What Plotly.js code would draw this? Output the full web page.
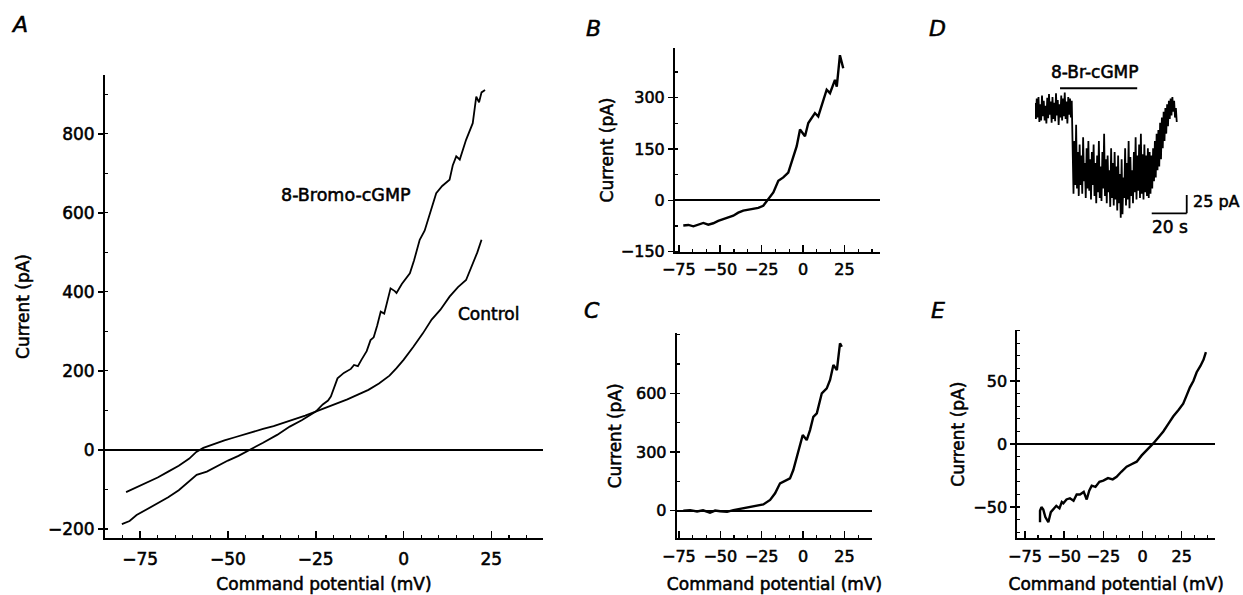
<!DOCTYPE html>
<html>
<head>
<meta charset="utf-8">
<script src="https://cdn.plot.ly/plotly-3.0.1.min.js"></script>
<style>
  html, body { margin: 0; padding: 0; background: #fff; }
  #chart { width: 1243px; height: 595px; }
  #chart svg text { stroke: #000; stroke-width: 0.55px; }
</style>
</head>
<body>
<div id="chart"></div>
<script>
// ---------- Panel A: I-V curves (mV, pA) ----------
const controlV = [-79,-76,-73,-70,-67,-64,-61,-59,-57,-54,-51,-48,-45,-43,-40,-37,-34,-31,-28,-25,-22,-19,-16,-13,-10,-7,-4,-2,0,2.8,5.5,8,10.5,13.1,15.5,17.8,19.5,21,22.2];
const controlI = [-107,-95,-83,-70,-55,-40,-22,-5,5,15,24,32,40,46,53,60,70,78,87,97,108,118,128,140,152,168,188,207,228,261,295,330,355,388,412,430,465,500,532];

const bromoV = [-80.2,-78,-76,-73,-70,-67,-64,-61,-58.9,-56,-53,-50,-47,-43.75,-40,-36,-32.4,-29,-25,-23,-21.5,-20.7,-19.5,-18.8,-17,-15,-14.1,-13,-12,-10.5,-9.4,-8.5,-7.5,-6.5,-5.5,-4.5,-3.7,-2.5,-2,-0.5,1.8,3,4.6,6,7.5,9.3,11,13.1,14,15,16,17.8,19.7,20.7,21.5,22.2,23.2];
const bromoI = [-188,-180,-165,-150,-135,-120,-102,-80,-63,-55,-40,-27,-15,0,18,38,59,75,97,115,125,135,165,181,195,205,215,212,228,250,278,285,315,350,345,380,409,402,397,420,447,480,532,555,600,650,668,684,720,743,735,785,827,894,880,905,911];

// ---------- Panel B ----------
const bV = [-72.3,-69.2,-66.2,-63.2,-60.2,-57.2,-54.2,-51.2,-48.1,-45.1,-42.1,-39.1,-36.1,-33.1,-30,-27,-24,-21,-17.9,-14.9,-11.9,-8.9,-5.9,-3.8,-1.8,1.2,3.2,7.2,9.2,12.3,14.3,16.3,19.3,20.4,22.3,24.3];
const bI = [-73.7,-72,-76,-70,-66,-71,-67,-60,-54,-50,-45,-36,-30,-27,-23,-22,-16,4,23,57,67,81,129,158,207,187,226,255,245,294,323,313,352,332,424,386];

// ---------- Panel C ----------
const cV = [-72.3,-68.2,-64,-60.4,-56.2,-53.1,-50.1,-45.9,-42.1,-36.1,-30,-24,-19.9,-16.9,-13.9,-9.8,-7.9,-5.9,-3.8,-1.8,-0.2,2.2,4.2,6.2,8.3,11.3,14.3,16.3,18.3,20.4,22.3,23.4];
const cI = [0,3,-4,2,-10,1,-3,-6,3,12,20,32,55,89,140,157,165,208,276,327,387,361,412,480,498,600,625,668,745,719,855,838];

// ---------- Panel E ----------
const eV = [-65.4,-65.4,-64.5,-63.3,-62,-60.1,-58.5,-56.9,-55,-53,-51.5,-50.5,-48.5,-46.3,-44,-42,-39.9,-37.5,-35.6,-34,-32.4,-30,-27.5,-25,-22,-19,-16.5,-13.5,-10.1,-7,-3.7,-0.5,2.7,6.9,10,13.3,16.5,19.7,23,26,28,30.3,32.5,34.6,37,39,40.5];
const eI = [-62,-53,-50,-52,-58,-62,-54,-52,-49,-51,-46,-47,-44,-43,-45,-40,-40,-38,-44,-37,-33,-34,-30,-29,-27,-28,-26,-22,-18,-16,-14,-9,-5,0.5,5,10,16,22,27,32,38,45,50,57,62,67,73];

// ---------- Panel D: current trace (pA), sampled every 0.5 s ----------
const dStep = 0.5;
const dI = [
  12,-10,18,-8,20,-14,10,-12,22,-6,
  15,-12,8,-16,19,-9,24,-4,14,-15,
  20,-10,12,-13,25,-5,16,-18,10,-8,
  22,-12,18,-6,26,-10,14,-16,20,-4,
  18,-8,15,
  -85,-112,-40,-100,-18,-105,-55,-115,-45,
  -100,-60,-112,-35,-95,-70,-118,-50,-105,-40,
  -108,-65,-120,-55,-100,-45,-115,-70,-125,-60,
  -110,-40,-118,-75,-122,-55,-105,-30,-115,-65,
  -125,-60,-110,-80,-130,-50,-118,-70,-128,-55,
  -120,-75,-135,-60,-125,-85,-145,-65,-140,-90,
  -118,-50,-128,-70,-120,-40,-132,-62,-115,-80,
  -125,-55,-110,-35,-120,-60,-108,-45,-118,-30,
  -112,-58,-120,-45,-110,-60,-115,-50,-118,-55,
  -112,-60,-105,-50,-95,-40,-90,-30,-80,-25,
  -75,-15,-65,-8,-50,0,-40,5,-30,10,
  -20,15,-10,18,-5,20,0,15,-8,5,
  -14
];
const dT = dI.map((_, i) => i * dStep);
const drugStart = 14.3, drugEnd = 58.4;     // s, application bar
const drugLabel = '8-Br-cGMP';
const scaleI = 25, scaleT = 20;             // scale bar: 25 pA, 20 s

// ---------- Labels ----------
const xTitle = 'Command potential (mV)';
const yTitle = 'Current (pA)';
const panelLetters = ['A','B','C','D','E'];
const cTicks = [0, 300, 600];

// ---------- Layout helpers (pixel -> paper) ----------
const W = 1243, H = 595;
const px = x => x / W;
const py = y => 1 - y / H;
const FONT = 'DejaVu Sans, Verdana, sans-serif';
const BLK = '#000';
const f = (size) => ({ family: FONT, size: size, color: BLK });

function xAx(dom, range, opts) {
  return Object.assign({
    domain: [px(dom[0]), px(dom[1])], range: range,
    showline: true, linewidth: 2, linecolor: BLK,
    ticks: 'inside', ticklen: 7, tickwidth: 1.5, tickcolor: BLK,
    tickmode: 'linear', tick0: 0, dtick: 25,
    showgrid: false, zeroline: false,
    tickfont: f(16), automargin: false,
    fixedrange: true
  }, opts);
}
function yAx(dom, range, opts) {
  return Object.assign({
    domain: [py(dom[1]), py(dom[0])], range: range,
    showline: true, linewidth: 2, linecolor: BLK,
    ticks: 'outside', ticklen: 5, tickwidth: 1.5, tickcolor: BLK,
    tickmode: 'linear', tick0: 0,
    showgrid: false, zeroline: true, zerolinewidth: 2, zerolinecolor: BLK,
    tickfont: f(16), automargin: false,
    fixedrange: true
  }, opts);
}
const titleFont = f(17);

const traces = [
  { x: controlV, y: controlI, xaxis: 'x', yaxis: 'y', mode: 'lines', line: { color: BLK, width: 1.8 }, name: 'Control' },
  { x: bromoV, y: bromoI, xaxis: 'x', yaxis: 'y', mode: 'lines', line: { color: BLK, width: 1.8 }, name: '8-Bromo-cGMP' },
  { x: bV, y: bI, xaxis: 'x2', yaxis: 'y2', mode: 'lines', line: { color: BLK, width: 2.4 } },
  { x: cV, y: cI, xaxis: 'x3', yaxis: 'y3', mode: 'lines', line: { color: BLK, width: 2.4 } },
  { x: dT, y: dI, xaxis: 'x4', yaxis: 'y4', mode: 'lines', line: { color: BLK, width: 1.8 } },
  { x: eV, y: eI, xaxis: 'x5', yaxis: 'y5', mode: 'lines', line: { color: BLK, width: 2.4 } }
];

const minorX = { tickmode: 'linear', tick0: 0, dtick: 25 / 3, ticks: 'inside', ticklen: 3.5, tickwidth: 1.2, tickcolor: BLK };

function letter(t, x, y) {
  return { text: '<i>' + t + '</i>', xref: 'paper', yref: 'paper', x: px(x), y: py(y),
           xanchor: 'center', yanchor: 'middle', showarrow: false, font: { family: FONT, size: 22, color: BLK } };
}
function label(t, x, y, size) {
  return { text: t, xref: 'paper', yref: 'paper', x: px(x), y: py(y),
           xanchor: 'center', yanchor: 'middle', showarrow: false, font: f(size) };
}

const layout = {
  width: W, height: H, autosize: false,
  margin: { l: 0, r: 0, t: 0, b: 0, pad: 0 },
  paper_bgcolor: '#fff', plot_bgcolor: 'rgba(0,0,0,0)',
  showlegend: false,
  font: { family: FONT, color: BLK },

  // A
  xaxis: xAx([105, 543], [-85, 39.7], {
    anchor: 'y', tickfont: f(17), ticklabelstandoff: 5,
    minor: { tickmode: 'linear', tick0: 0, dtick: 5, ticks: 'inside', ticklen: 3.5, tickwidth: 1.2, tickcolor: BLK },
    title: { text: xTitle, font: titleFont, standoff: 10 }
  }),
  yaxis: yAx([75, 538], [-223, 949], {
    anchor: 'x', dtick: 200, tickfont: f(17),
    minor: { tickmode: 'linear', tick0: 0, dtick: 100, ticks: 'inside', ticklen: 3, tickwidth: 1.2, tickcolor: BLK },
    title: { text: yTitle, font: titleFont, standoff: 14 }
  }),
  // B
  xaxis2: xAx([675, 880], [-77.3, 46.5], { anchor: 'y2', minor: minorX, ticklabelstandoff: 2 }),
  yaxis2: yAx([48, 252], [-151, 445], {
    anchor: 'x2', dtick: 150,
    minor: { tickmode: 'linear', tick0: 0, dtick: 75, ticks: 'inside', ticklen: 3, tickwidth: 1.2, tickcolor: BLK },
    title: { text: yTitle, font: titleFont, standoff: 3 }
  }),
  // C
  xaxis3: xAx([676.7, 872.3], [-76.3, 41.8], {
    anchor: 'y3', minor: minorX, ticklabelstandoff: 2,
    title: { text: xTitle, font: titleFont, standoff: 14 }
  }),
  yaxis3: yAx([333.3, 538.3], [-141, 906.7], {
    anchor: 'x3', tickmode: 'array', tickvals: cTicks,
    minor: { tickmode: 'linear', tick0: 0, dtick: 150, ticks: 'inside', ticklen: 3, tickwidth: 1.2, tickcolor: BLK },
    title: { text: yTitle, font: titleFont, standoff: 10 }
  }),
  // D (trace only)
  xaxis4: { domain: [px(1035), px(1227.5)], range: [0, 110], visible: false, anchor: 'y4', fixedrange: true },
  yaxis4: { domain: [py(230), py(60)], range: [-161.6, 70.6], visible: false, anchor: 'x4', fixedrange: true },
  // E
  xaxis5: xAx([1017.3, 1215], [-79.9, 46.3], {
    anchor: 'y5', minor: minorX, ticklabelstandoff: 2,
    title: { text: xTitle, font: titleFont, standoff: 14 }
  }),
  yaxis5: yAx([330, 538.3], [-74.8, 90.5], {
    anchor: 'x5', dtick: 50,
    minor: { tickmode: 'linear', tick0: 0, dtick: 10, ticks: 'inside', ticklen: 3, tickwidth: 1.2, tickcolor: BLK },
    title: { text: yTitle, font: titleFont, standoff: 4 }
  }),

  shapes: [
    // drug application bar
    { type: 'line', xref: 'x4', yref: 'y4', x0: drugStart, x1: drugEnd, y0: 32, y1: 32, line: { color: BLK, width: 2.2 } },
    // scale bars
    { type: 'line', xref: 'x4', yref: 'y4', x0: 86.7, x1: 86.7, y0: -138.8 + scaleI, y1: -138.8, line: { color: BLK, width: 1.8 } },
    { type: 'line', xref: 'x4', yref: 'y4', x0: 86.7 - scaleT, x1: 86.7, y0: -138.8, y1: -138.8, line: { color: BLK, width: 1.8 } }
  ],

  annotations: [
    letter(panelLetters[0], 19, 25),
    letter(panelLetters[1], 593, 28),
    letter(panelLetters[2], 592, 310),
    letter(panelLetters[3], 938, 28),
    letter(panelLetters[4], 938, 310),
    label('8-Bromo-cGMP', 345.7, 195, 17.5),
    label('Control', 488, 314, 17),
    { text: drugLabel, xref: 'x4', yref: 'y4', x: 33.8, y: 54.2, xanchor: 'center', yanchor: 'middle', showarrow: false, font: f(17) },
    { text: scaleI + ' pA', xref: 'x4', yref: 'y4', x: 88.9, y: -122.5, xanchor: 'left', yanchor: 'middle', showarrow: false, font: f(16) },
    { text: scaleT + ' s', xref: 'x4', yref: 'y4', x: 77.1, y: -157.5, xanchor: 'center', yanchor: 'middle', showarrow: false, font: f(17) }
  ]
};

Plotly.newPlot('chart', traces, layout, { staticPlot: true, displayModeBar: false });
</script>
</body>
</html>
